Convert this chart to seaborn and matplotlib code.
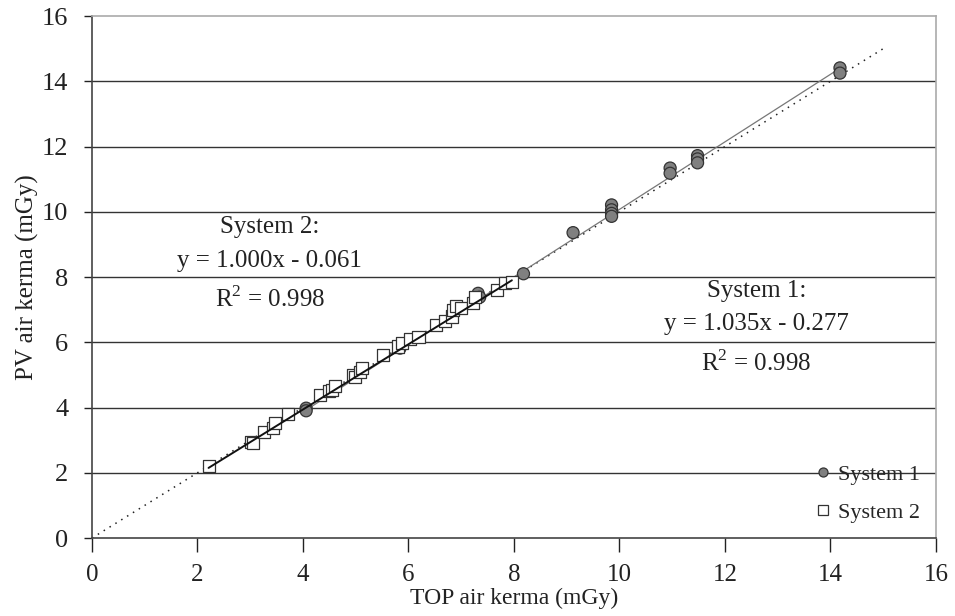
import matplotlib
matplotlib.use('Agg')
import matplotlib.pyplot as plt
import seaborn as sns
import numpy as np
import pandas as pd

# System 1 measurements (grey circles)
sys1_top = [14.18, 14.18, 11.48, 11.48, 11.48, 10.96, 10.96, 9.85, 9.85, 9.85, 9.85,
            9.12, 8.18, 7.32, 7.35, 5.84, 4.06, 4.06]
sys1_pv = [14.41, 14.25, 11.72, 11.62, 11.50, 11.34, 11.18, 10.21, 10.06, 9.95, 9.86,
           9.36, 8.10, 7.50, 7.38, 5.82, 3.98, 3.90]

# System 2 measurements (open squares)
sys2_top = [2.21, 3.01, 3.05, 3.27, 3.44, 3.47, 3.71, 4.32, 4.49, 4.55, 4.61, 4.95, 4.98,
            5.08, 5.11, 5.51, 5.81, 5.87, 6.03, 6.19, 6.53, 6.69, 6.82, 6.85, 6.91, 7.00,
            7.23, 7.26, 7.67, 7.83, 7.96]
sys2_pv = [2.21, 2.95, 2.90, 3.26, 3.36, 3.52, 3.79, 4.39, 4.51, 4.55, 4.66, 5.00, 4.93,
           5.10, 5.20, 5.61, 5.87, 5.97, 6.09, 6.16, 6.53, 6.64, 6.79, 6.99, 7.10, 7.05,
           7.20, 7.40, 7.61, 7.81, 7.86]

# reported fits
fit1 = (1.035, -0.277)
fit2 = (1.000, -0.061)
identity_range = [0, 15]

df = pd.DataFrame({
    'TOP': sys1_top + sys2_top,
    'PV': sys1_pv + sys2_pv,
    'system': ['System 1'] * len(sys1_top) + ['System 2'] * len(sys2_top),
})

sns.set_style('white')
plt.rcParams['font.family'] = ['Liberation Serif', 'DejaVu Serif']
plt.rcParams['mathtext.fontset'] = 'custom'
plt.rcParams['mathtext.rm'] = 'Liberation Serif'

fig = plt.figure(figsize=(9.55, 6.16), dpi=100)
ax = fig.add_axes([0.0963, 0.1266, 0.8838, 0.8474])

# horizontal gridlines
for yv in range(2, 15, 2):
    ax.axhline(yv, color='#333333', lw=1.0, zorder=0)

# identity dotted line
ax.plot(identity_range, identity_range, ls=(0, (1, 3.5)), color='#222222', lw=1.1, zorder=1)

# trend lines
x1 = np.array([min(sys1_top), max(sys1_top)])
ax.plot(x1, fit1[0] * x1 + fit1[1], color='#777777', lw=0.9, zorder=2)
x2 = np.array([min(sys2_top), max(sys2_top)])

sns.scatterplot(data=df, x='TOP', y='PV', hue='system', style='system',
                palette={'System 1': '#808080', 'System 2': 'white'},
                markers={'System 1': 'o', 'System 2': 's'},
                s=75, linewidth=0.9, edgecolor='#333333', ax=ax, zorder=3)
ax.plot(x2, fit2[0] * x2 + fit2[1], color='#111111', lw=1.4, zorder=4)

ax.set_xlim(0, 16)
ax.set_ylim(0, 16)
ax.set_xticks(range(0, 17, 2))
ax.set_yticks(range(0, 17, 2))
ax.tick_params(axis='x', direction='out', length=10, width=1, pad=9,
               labelsize=18, colors='#222222', bottom=True)
ax.tick_params(axis='y', direction='out', length=6, width=1, pad=11,
               labelsize=19, colors='#222222', left=True)

for side in ['left', 'bottom']:
    ax.spines[side].set_color('#444444')
    ax.spines[side].set_linewidth(1.2)
for side in ['top', 'right']:
    ax.spines[side].set_color('#aaaaaa')
    ax.spines[side].set_linewidth(1.2)

ax.set_xlabel('TOP air kerma (mGy)', fontsize=17, labelpad=1, color='#222222')
ax.set_ylabel('PV air kerma (mGy)', fontsize=18, labelpad=2, color='#222222')

ax.text(3.37, 8.4, 'System 2:\ny = 1.000x - 0.061\nR$^2$ = 0.998', ha='center', va='center',
        fontsize=18, linespacing=1.7, color='#222222')
ax.text(12.6, 6.45, 'System 1:\ny = 1.035x - 0.277\nR$^2$ = 0.998', ha='center', va='center',
        fontsize=18, linespacing=1.7, color='#222222')

handles, labels = ax.get_legend_handles_labels()
for h in handles:
    h.set_markersize(6.5)
ax.legend(handles, labels, loc='lower right', bbox_to_anchor=(1.005, -0.01),
          frameon=False, fontsize=16, handletextpad=0.1, labelspacing=0.8,
          handlelength=1.2)

fig.savefig('out.png', dpi=100)
